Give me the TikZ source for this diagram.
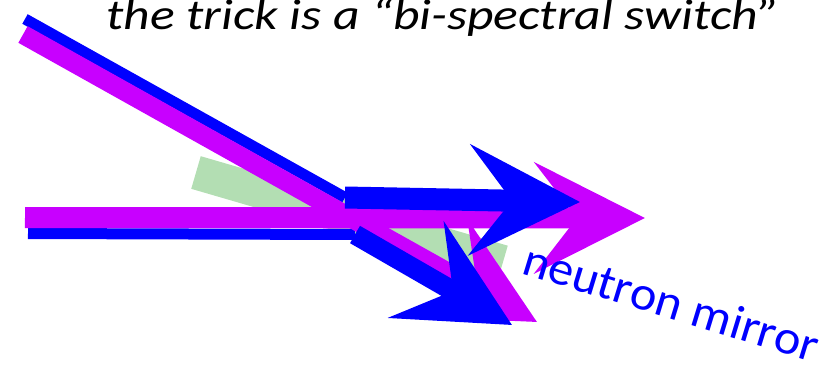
\documentclass[tikz,border=0pt]{standalone}
\usepackage{fontspec}
\setmainfont{Carlito}
\usetikzlibrary{arrows.meta}
\definecolor{beamblue}{RGB}{0,0,255}
\definecolor{beammagenta}{RGB}{200,0,255}
\definecolor{mirrorgreen}{RGB}{179,222,179}

\begin{document}
\begin{tikzpicture}[x=1pt, y=-1pt,
    bighead/.style={-{Stealth[length=110pt, width=110pt, inset=42pt]}}]
  \useasboundingbox (0,0) rectangle (834,368);
  % beam ends
  \coordinate (blueInTop) at (25,19);
  \coordinate (blueInLow) at (28,233.5);
  \coordinate (magInTop) at (23,34.5);
  \coordinate (magInLow) at (25,217.5);
  \coordinate (switchTop) at (345,197.5);
  \coordinate (switchLow) at (355,234.5);
  \coordinate (blueOutH) at (580,202);
  \coordinate (blueOutD) at (512,325);
  \coordinate (magOutH) at (645,218);
  \coordinate (magOutD) at (537,322);
  \coordinate (mirrorL) at (196,172.5);
  \coordinate (mirrorR) at (503,262);
  % the mirror, under everything
  \draw[line width=34pt, mirrorgreen] (mirrorL) -- (mirrorR);
  % incoming blue beams
  \draw[line width=11pt, beamblue] (blueInTop) -- (switchTop);
  \draw[line width=11pt, beamblue] (blueInLow) -- (switchLow);
  % magenta beams go straight on
  \draw[bighead, line width=19pt, beammagenta] (magInTop) -- (magOutD);
  \draw[bighead, line width=21pt, beammagenta] (magInLow) -- (magOutH);
  % blue beams are switched
  \draw[bighead, line width=22pt, beamblue] (switchTop) -- (blueOutH);
  \draw[bighead, line width=20pt, beamblue] (switchLow) -- (blueOutD);
  % labels
  \node[font=\itshape\fontsize{43}{50}\selectfont, anchor=base, inner sep=0pt,
    xscale=1.2] (title) at (443,29.5) {the trick is a “bi-spectral switch”};
  \node[font=\fontsize{48}{56}\selectfont, text=beamblue, anchor=base west,
    inner sep=0pt, rotate=-17, xscale=1.05] (mirrorlabel) at (520,273)
    {neutron mirror};
\end{tikzpicture}
\end{document}
